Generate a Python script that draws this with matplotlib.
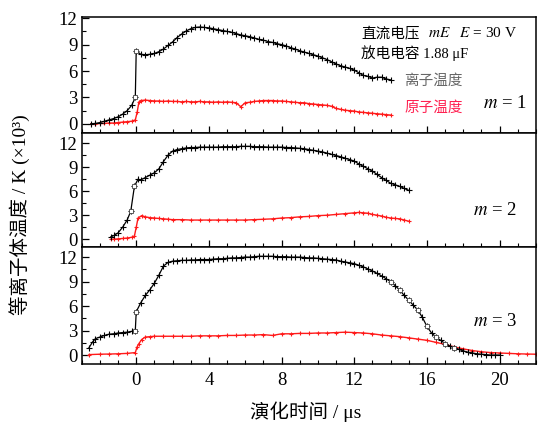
import numpy as np
import matplotlib
matplotlib.use("Agg")
import matplotlib.pyplot as plt
from matplotlib.ticker import MultipleLocator

plt.rcParams['font.family'] = ['Liberation Serif', 'Noto Sans CJK SC']
plt.rcParams['mathtext.fontset'] = 'stix'

# ---------------- data (time in us, temperature in 10^3 K) ----------------
# m = 1
p1_ion_t = [-2.5, -2.25, -2.0, -1.75, -1.5, -1.25, -1.0, -0.75, -0.5, -0.25, -0.05, 0.0,
            0.25, 0.5, 0.75, 1.0, 1.25, 1.5, 1.75, 2.0, 2.25, 2.5, 2.75, 3.0, 3.25, 3.5,
            3.75, 4.0, 4.25, 4.5, 4.75, 5.0, 5.25, 5.5, 5.75, 6.0, 6.25, 6.5, 6.75, 7.0,
            7.25, 7.5, 7.75, 8.0, 8.25, 8.5, 8.75, 9.0, 9.25, 9.5, 9.75, 10.0, 10.25, 10.5,
            10.75, 11.0, 11.25, 11.5, 11.75, 12.0, 12.25, 12.5, 12.75, 13.0, 13.25, 13.5,
            13.75, 14.0]
p1_ion_T = [0.0, 0.05, 0.15, 0.3, 0.45, 0.6, 0.8, 1.1, 1.5, 2.1, 3.0, 8.3,
            7.9, 7.85, 7.9, 8.0, 8.2, 8.5, 8.9, 9.3, 9.8, 10.2, 10.55, 10.8, 10.95, 11.0,
            10.95, 10.9, 10.8, 10.7, 10.6, 10.5, 10.4, 10.25, 10.1, 10.0, 9.9, 9.75, 9.6, 9.5,
            9.35, 9.25, 9.1, 9.0, 8.85, 8.65, 8.5, 8.3, 8.15, 8.0, 7.85, 7.7, 7.5, 7.3,
            7.05, 6.8, 6.6, 6.45, 6.3, 6.1, 5.8, 5.5, 5.4, 5.2, 5.3, 5.3,
            5.1, 5.0]
p1_atom_t = [-2.5, -2.25, -2.0, -1.75, -1.5, -1.25, -1.0, -0.75, -0.5, -0.25, -0.05, 0.05,
             0.15, 0.25, 0.5, 0.75, 1.0, 1.25, 1.5, 1.75, 2.0, 2.25, 2.5, 2.75, 3.0, 3.25,
             3.5, 3.75, 4.0, 4.25, 4.5, 4.75, 5.0, 5.25, 5.5, 5.75, 6.0, 6.25, 6.5, 6.75,
             7.0, 7.25, 7.5, 7.75, 8.0, 8.25, 8.5, 8.75, 9.0, 9.25, 9.5, 9.75, 10.0, 10.25,
             10.5, 10.75, 11.0, 11.25, 11.5, 11.75, 12.0, 12.25, 12.5, 12.75, 13.0, 13.25,
             13.5, 13.75, 14.0]
p1_atom_T = [0.0, 0.0, 0.05, 0.05, 0.1, 0.1, 0.15, 0.2, 0.25, 0.3, 0.45, 1.3,
             2.5, 2.65, 2.7, 2.65, 2.6, 2.6, 2.55, 2.6, 2.55, 2.55, 2.5, 2.55, 2.5, 2.5,
             2.55, 2.5, 2.5, 2.45, 2.5, 2.45, 2.5, 2.45, 2.4, 1.95, 2.4, 2.45, 2.55, 2.6,
             2.65, 2.65, 2.65, 2.6, 2.6, 2.55, 2.5, 2.45, 2.4, 2.4, 2.3, 2.25, 2.2, 2.15,
             2.1, 2.0, 1.75, 1.65, 1.55, 1.5, 1.45, 1.35, 1.3, 1.25, 1.2, 1.15,
             1.1, 1.05, 1.0]

# m = 2
p2_ion_t = [-1.4, -1.2, -1.0, -0.75, -0.5, -0.3, -0.1, 0.1, 0.25, 0.5, 0.75, 1.0, 1.25,
            1.5, 1.75, 2.0, 2.25, 2.5, 2.75, 3.0, 3.25, 3.5, 3.75, 4.0, 4.25, 4.5, 4.75,
            5.0, 5.25, 5.5, 5.75, 6.0, 6.25, 6.5, 6.75, 7.0, 7.25, 7.5, 7.75, 8.0, 8.25,
            8.5, 8.75, 9.0, 9.25, 9.5, 9.75, 10.0, 10.25, 10.5, 10.75, 11.0, 11.25, 11.5,
            11.75, 12.0, 12.25, 12.5, 12.75, 13.0, 13.25, 13.5, 13.75, 14.0, 14.25, 14.5,
            14.75, 15.0]
p2_ion_T = [0.3, 0.5, 0.8, 1.5, 2.4, 3.5, 6.6, 7.5, 7.4, 7.7, 8.0, 8.3, 8.8,
            9.7, 10.5, 11.0, 11.2, 11.3, 11.4, 11.45, 11.45, 11.5, 11.5, 11.5, 11.5, 11.5, 11.55,
            11.55, 11.55, 11.55, 11.6, 11.6, 11.6, 11.55, 11.55, 11.55, 11.5, 11.5, 11.5, 11.5, 11.45,
            11.45, 11.4, 11.35, 11.3, 11.2, 11.1, 11.0, 10.9, 10.75, 10.6, 10.45, 10.3, 10.1,
            9.95, 9.75, 9.4, 9.1, 8.8, 8.5, 8.1, 7.7, 7.35, 7.0, 6.8, 6.6,
            6.35, 6.1]
p2_atom_t = [-1.4, -1.2, -1.0, -0.75, -0.5, -0.25, -0.1, 0.0, 0.1, 0.3, 0.5, 0.75, 1.0,
             1.25, 1.5, 1.75, 2.0, 2.5, 3.0, 3.5, 4.0, 4.5, 5.0, 5.5, 6.0, 6.5, 7.0,
             7.5, 8.0, 8.5, 9.0, 9.5, 10.0, 10.5, 11.0, 11.5, 12.0, 12.25, 12.5, 12.75,
             13.0, 13.25, 13.5, 13.75, 14.0, 14.25, 14.5, 14.75, 15.0]
p2_atom_T = [0.0, 0.02, 0.05, 0.1, 0.15, 0.25, 0.4, 1.5, 2.65, 2.95, 2.8, 2.7, 2.65,
             2.6, 2.55, 2.5, 2.45, 2.45, 2.4, 2.4, 2.4, 2.4, 2.4, 2.4, 2.4, 2.45, 2.5,
             2.55, 2.65, 2.7, 2.8, 2.85, 2.95, 3.0, 3.1, 3.2, 3.3, 3.35, 3.3, 3.25,
             3.1, 3.0, 2.9, 2.75, 2.65, 2.6, 2.55, 2.4, 2.25]

# m = 3
p3_ion_t = [-2.6, -2.4, -2.25, -2.0, -1.75, -1.5, -1.25, -1.0, -0.75, -0.5, -0.25, -0.05,
            0.0, 0.25, 0.5, 0.75, 1.0, 1.25, 1.5, 1.75, 2.0, 2.25, 2.5, 2.75, 3.0, 3.25,
            3.5, 3.75, 4.0, 4.25, 4.5, 4.75, 5.0, 5.25, 5.5, 5.75, 6.0, 6.25, 6.5, 6.75,
            7.0, 7.25, 7.5, 7.75, 8.0, 8.25, 8.5, 8.75, 9.0, 9.25, 9.5, 9.75, 10.0, 10.25,
            10.5, 10.75, 11.0, 11.25, 11.5, 11.75, 12.0, 12.25, 12.5, 12.75, 13.0, 13.25,
            13.5, 13.75, 14.0, 14.25, 14.5, 14.75, 15.0, 15.25, 15.5, 15.75, 16.0, 16.25,
            16.5, 16.75, 17.0, 17.25, 17.5, 17.75, 18.0, 18.25, 18.5, 18.75, 19.0, 19.25,
            19.5, 19.75, 20.0]
p3_ion_T = [0.9, 1.6, 2.0, 2.2, 2.4, 2.55, 2.6, 2.7, 2.75, 2.8, 2.9, 3.0,
            5.3, 6.4, 7.3, 8.0, 8.8, 9.8, 10.9, 11.35, 11.5, 11.55, 11.6, 11.6, 11.65, 11.65,
            11.7, 11.7, 11.7, 11.75, 11.8, 11.8, 11.85, 11.9, 11.9, 11.95, 12.0, 12.0, 12.05, 12.1,
            12.1, 12.1, 12.1, 12.05, 12.05, 12.05, 12.0, 12.0, 12.0, 11.95, 11.9, 11.9, 11.85, 11.8,
            11.75, 11.7, 11.65, 11.5, 11.4, 11.3, 11.2, 11.0, 10.8, 10.55, 10.3, 10.0,
            9.7, 9.35, 9.0, 8.5, 7.95, 7.3, 6.7, 6.1, 5.5, 4.6, 3.5, 2.7,
            2.2, 1.8, 1.4, 1.1, 0.9, 0.7, 0.5, 0.35, 0.25, 0.15, 0.1, 0.05,
            0.0, 0.0, 0.0]
p3_atom_t = [-2.6, -2.0, -1.5, -1.0, -0.5, -0.05, 0.05, 0.15, 0.3, 0.5, 0.75, 1.0, 1.5,
             2.0, 2.5, 3.0, 3.5, 4.0, 4.5, 5.0, 5.5, 6.0, 6.5, 7.0, 7.5, 8.0, 8.5, 9.0,
             9.5, 10.0, 10.5, 11.0, 11.5, 12.0, 12.5, 13.0, 13.5, 14.0, 14.5, 15.0, 15.5,
             16.0, 16.5, 17.0, 17.5, 18.0, 18.5, 19.0, 19.5, 20.0, 20.5, 21.0, 21.5, 22.0]
p3_atom_T = [0.05, 0.1, 0.12, 0.15, 0.2, 0.3, 1.0, 1.4, 1.9, 2.2, 2.25, 2.3, 2.3,
             2.3, 2.3, 2.3, 2.35, 2.35, 2.35, 2.4, 2.4, 2.45, 2.45, 2.5, 2.4, 2.6, 2.6, 2.65,
             2.65, 2.7, 2.7, 2.75, 2.8, 2.75, 2.7, 2.6, 2.45, 2.35, 2.25, 2.1, 1.95,
             1.8, 1.55, 1.3, 1.0, 0.75, 0.55, 0.4, 0.3, 0.25, 0.2, 0.15, 0.12, 0.1]

panels = [
    (p1_ion_t, p1_ion_T, p1_atom_t, p1_atom_T, (-1.0, 12.1), [10, 11]),
    (p2_ion_t, p2_ion_T, p2_atom_t, p2_atom_T, (-1.0, 13.3), [5, 6]),
    (p3_ion_t, p3_ion_T, p3_atom_t, p3_atom_T, (-1.1, 13.2), [11, 12] + list(range(68, 84, 2))),
]

fig = plt.figure(figsize=(5.42, 4.32), dpi=100)
left, width = 81.7 / 542, (536 - 81.7) / 542
tops = [17.3, 132.7, 247.3]
bots = [132.7, 247.3, 364.0]

axes = []
for i, (it, iT, at, aT, ylim, sq) in enumerate(panels):
    ax = fig.add_axes([left, 1 - bots[i] / 432, width, (bots[i] - tops[i]) / 432])
    axes.append(ax)
    ax.plot(at, aT, color='#ff1a1a', lw=1.0, marker='+', ms=3.5, mew=0.8, zorder=2)
    ax.plot(it, iT, color='black', lw=0.9, marker='+', ms=4.0, mew=0.8, zorder=3)
    ax.plot(np.array(it)[sq], np.array(iT)[sq], ls='none', marker='s', ms=2.6,
            mfc='white', mec='#444444', mew=0.6, zorder=4)
    ax.set_xlim(-3, 22)
    ax.set_ylim(*ylim)
    ax.xaxis.set_major_locator(MultipleLocator(4))
    ax.xaxis.set_minor_locator(MultipleLocator(1))
    ax.yaxis.set_major_locator(MultipleLocator(3))
    ax.yaxis.set_minor_locator(MultipleLocator(1.5))
    ax.tick_params(which='both', direction='in', top=False, right=False, labelsize=13.5)
    ax.tick_params(which='major', length=5, width=0.9)
    ax.tick_params(which='minor', length=3, width=0.8)
    ax.tick_params(axis='y', pad=3)
    for s in ax.spines.values():
        s.set_linewidth(1.1)
    ax.set_yticks([0, 3, 6, 9, 12])
    if i < 2:
        ax.tick_params(labelbottom=False)
    else:
        ax.set_xticks([0, 4, 8, 12, 16, 20])
        ax.tick_params(axis='x', pad=6)

# annotations
fig.text(361 / 542, 1 - 33 / 432, "直流电压", fontsize=10.5, va='center', ha='left')
fig.text(428 / 542, 1 - 33 / 432, "$mE$   $E$ = 30 V", fontsize=11, va='center', ha='left')
fig.text(361 / 542, 1 - 53 / 432, "放电电容 1.88 μF", fontsize=10.5, va='center', ha='left')
fig.text(404 / 542, 1 - 81 / 432, "离子温度", fontsize=10.5, va='center', ha='left', color='#666666')
fig.text(404 / 542, 1 - 108 / 432, "原子温度", fontsize=10.5, va='center', ha='left', color='#ff2050')
fig.text(527 / 542, 1 - 104 / 432, "$m$ = 1", fontsize=13.5, va='center', ha='right')
fig.text(517 / 542, 1 - 210 / 432, "$m$ = 2", fontsize=13.5, va='center', ha='right')
fig.text(517 / 542, 1 - 321 / 432, "$m$ = 3", fontsize=13.5, va='center', ha='right')

fig.text(306 / 542, 1 - 412 / 432, "演化时间 / μs", fontsize=14, va='center', ha='center')
fig.text(20 / 542, 1 - 215 / 432, "等离子体温度 / K (×10³)", fontsize=14, va='center', ha='center',
         rotation=90)

fig.savefig("out.png", dpi=100)
